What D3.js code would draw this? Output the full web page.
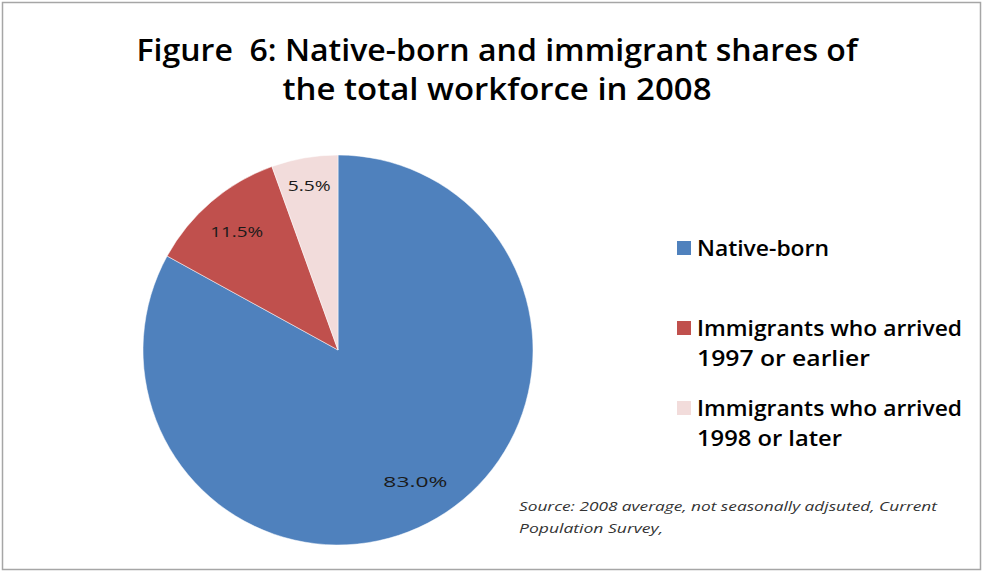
<!DOCTYPE html>
<html>
<head>
<meta charset="utf-8">
<script src="https://cdn.jsdelivr.net/npm/d3@7"></script>
<style>
  html, body { margin: 0; padding: 0; background: #fff; }
  svg { display: block; }
  text { white-space: pre; }
</style>
</head>
<body>
<svg id="chart" width="984" height="573"></svg>
<script>
const categories = ["Native-born", "Immigrants who arrived 1997 or earlier", "Immigrants who arrived 1998 or later"];
const legendLines = [["Native-born"], ["Immigrants who arrived", "1997 or earlier"], ["Immigrants who arrived", "1998 or later"]];
const values = [83.0, 11.5, 5.5];
const valueLabels = ["83.0%", "11.5%", "5.5%"];
const colors = ["#4F81BD", "#C0504D", "#F2DCDB"];
const titleLines = ["Figure  6: Native-born and immigrant shares of", "the total workforce in 2008"];
const sourceLines = ["Source: 2008 average, not seasonally adjsuted, Current", "Population Survey,"];

const svg = d3.select("#chart");
const FONT = "'Open Sans', Lato, sans-serif";

// border
svg.append("rect").attr("x", 2.5).attr("y", 2.5).attr("width", 978).attr("height", 567)
  .attr("fill", "#fff").attr("stroke", "#a6a6a6").attr("stroke-width", 1.5);

// title
const titleW = [721, 429];
titleLines.forEach((ln, j) => {
  svg.append("text").attr("x", 497).attr("y", 61 + j * 39).attr("text-anchor", "middle")
    .attr("font-family", FONT).attr("font-weight", 600).attr("font-size", 30).attr("fill", "#000")
    .attr("textLength", titleW[j]).attr("lengthAdjust", "spacingAndGlyphs")
    .text(ln);
});

// pie
const cx = 338, cy = 350, r = 195;
const pie = d3.pie().sort(null).value(d => d)(values);
const arc = d3.arc().innerRadius(0).outerRadius(r);
const g = svg.append("g").attr("transform", `translate(${cx},${cy})`);
g.selectAll("path").data(pie).join("path")
  .attr("d", arc).attr("fill", (d, i) => colors[i])
  .attr("stroke", "#fff").attr("stroke-width", 0.5);

const labelRadius = [152, 156, 167];
const labelW = [64, 53, 43];
g.selectAll("text.lbl").data(pie).join("text").attr("class", "lbl")
  .attr("transform", (d, i) => {
    const c = d3.arc().innerRadius(labelRadius[i]).outerRadius(labelRadius[i]).centroid(d);
    return `translate(${c[0]},${c[1]})`;
  })
  .attr("text-anchor", "middle").attr("dominant-baseline", "central")
  .attr("font-family", FONT).attr("font-size", 15).attr("fill", "#1a1a1a")
  .attr("textLength", (d, i) => labelW[i]).attr("lengthAdjust", "spacingAndGlyphs")
  .text((d, i) => valueLabels[i]);

// legend
const legendBase = [256, 336, 416];
const legendW = [[132], [265, 173], [265, 145]];
const lg = svg.append("g");
legendLines.forEach((lines, i) => {
  lg.append("rect").attr("x", 677).attr("y", legendBase[i] - 15).attr("width", 14).attr("height", 14)
    .attr("fill", colors[i]);
  lines.forEach((ln, j) => {
    lg.append("text").attr("x", 697).attr("y", legendBase[i] + j * 30)
      .attr("font-family", FONT).attr("font-weight", 600).attr("font-size", 21).attr("fill", "#000")
      .attr("textLength", legendW[i][j]).attr("lengthAdjust", "spacingAndGlyphs")
      .text(ln);
  });
});

// source
const sourceW = [418, 144];
sourceLines.forEach((ln, j) => {
  svg.append("text").attr("x", 519).attr("y", 511 + j * 22)
    .attr("font-family", FONT).attr("font-style", "italic").attr("font-size", 13)
    .attr("fill", "#333")
    .attr("textLength", sourceW[j]).attr("lengthAdjust", "spacingAndGlyphs")
    .text(ln);
});
</script>
</body>
</html>
